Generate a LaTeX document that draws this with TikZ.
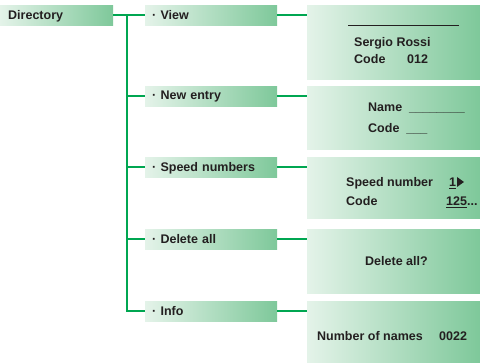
\documentclass[tikz,border=0pt]{standalone}
\usepackage{fontspec}
\setmainfont{Liberation Sans}
\definecolor{dirGreen}{HTML}{00A651}
\definecolor{dirPale}{HTML}{E4F3E9}
\definecolor{dirLeaf}{HTML}{7EC89A}
\definecolor{dirInk}{HTML}{231F20}
\newcommand{\dirdot}{\textperiodcentered\ }
\tikzset{
  dir link/.style={draw=dirGreen, line width=1.8pt},
  dir bar/.style={left color=dirPale, right color=dirLeaf, draw=none, anchor=north west,
    minimum height=20pt, inner xsep=8pt, inner ysep=0pt, align=left, text=dirInk,
    text depth=1pt, font=\fontsize{12.5}{14}\selectfont\bfseries},
  dir menu/.style={dir bar, minimum width=132pt, inner xsep=7pt, text width=118pt},
  dir screen/.style={left color=dirPale, right color=dirLeaf, draw=none, anchor=north west,
    minimum width=173pt, inner sep=0pt},
  dir text/.style={anchor=base west, inner sep=0pt, text=dirInk,
    font=\fontsize{12.5}{14}\selectfont\bfseries},
}
\begin{document}
\begin{tikzpicture}[x=1pt, y=-1pt]
  \useasboundingbox (0,0) rectangle (480,363);
  % Root and menu entries
  \node[dir bar, minimum width=113pt, text width=97pt] (dir) at (0,5) {Directory};
  \node[dir menu] (mView)   at (145,5)   {\dirdot View};
  \node[dir menu] (mNew)    at (145,86)  {\dirdot New entry};
  \node[dir menu] (mSpeed)  at (145,157) {\dirdot Speed numbers};
  \node[dir menu] (mDelete) at (145,229) {\dirdot Delete all};
  \node[dir menu] (mInfo)   at (145,301) {\dirdot Info};
  % Display screens
  \node[dir screen, minimum height=74pt] (sView)   at (307,5)   {};
  \node[dir screen, minimum height=63pt] (sNew)    at (307,86)  {};
  \node[dir screen, minimum height=61pt] (sSpeed)  at (307,157) {};
  \node[dir screen, minimum height=64pt] (sDelete) at (307,229) {};
  \node[dir screen, minimum height=62pt] (sInfo)   at (307,301) {};
  % Tree lines
  \coordinate (trunk) at (127,15);
  \draw[dir link] (dir.east) -- (mView.west);
  \draw[dir link] (trunk) |- (mInfo.west);
  \foreach \m in {mNew,mSpeed,mDelete} \draw[dir link] (trunk |- \m.west) -- (\m.west);
  \draw[dir link] (mView.east) -- (mView.east -| sView.west);
  \draw[dir link] (mNew.east) -- (mNew.east -| sNew.west);
  \draw[dir link] (mSpeed.east) -- (mSpeed.east -| sSpeed.west);
  \draw[dir link] (mDelete.east) -- (mDelete.east -| sDelete.west);
  \draw[dir link] (mInfo.east) -- (mInfo.east -| sInfo.west);
  % Screen contents
  \draw[dirInk, line width=0.8pt] (348,25) -- (459,25);
  \node[dir text] (tName) at (354,47) {Sergio Rossi};
  \node[dir text] (tCode) at (354,64) {Code};
  \node[dir text] (tNum)  at (407,64) {012};
  \node[dir text] (nName) at (368,112) {Name\ \ \_\_\_\_\_\_\_\_};
  \node[dir text] (nCode) at (368,133) {Code\ \ \_\_\_};
  \node[dir text] (pNum)   at (346,187) {Speed number};
  \node[dir text] (pOne)   at (449,187) {\underline{1}};
  \fill[dirInk] (457,177) -- (464,182) -- (457,187) -- cycle;
  \node[dir text] (pCode)  at (346,206) {Code};
  \node[dir text] (pValue) at (446,206) {\underline{125}...};
  \node[dir text] (dAsk)   at (365,266) {Delete all?};
  \node[dir text] (iNames) at (317,341) {Number of names};
  \node[dir text] (iCount) at (439,341) {0022};
\end{tikzpicture}
\end{document}
